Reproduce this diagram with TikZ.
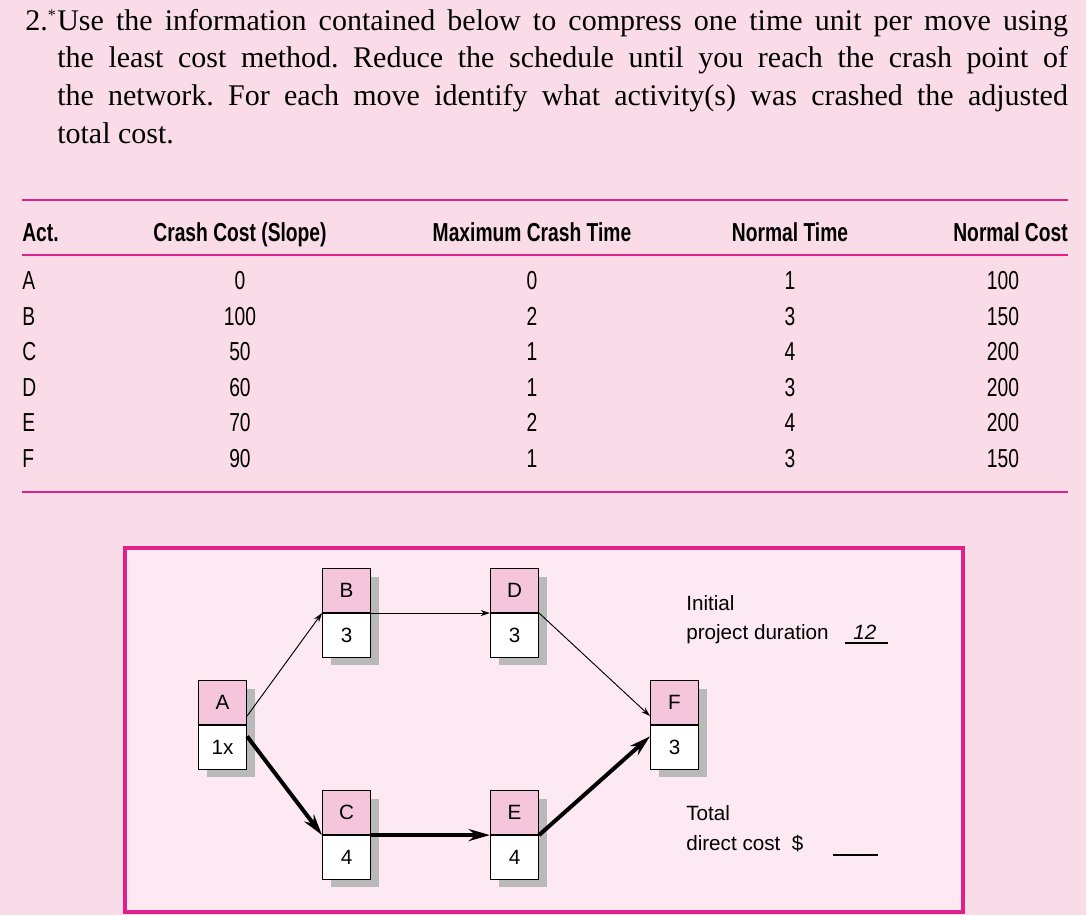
\documentclass[tikz,border=0pt]{standalone}
\usepackage{fontspec}
\setmainfont{Liberation Serif}
\newfontfamily\cond[FakeStretch=0.74]{Liberation Sans}
\newfontfamily\lsans{Liberation Sans}
\usetikzlibrary{arrows.meta,calc}
\definecolor{bgpink}{HTML}{FADCE8}
\definecolor{inpink}{HTML}{FCE9F1}
\definecolor{mag}{HTML}{E0218A}
\definecolor{toppink}{HTML}{F5C6DB}
\tikzset{
 title/.style={anchor=base west,inner sep=0pt,font=\fontsize{22.5}{26}\selectfont},
 th/.style={anchor=base,inner sep=0pt,font=\cond\bfseries\fontsize{19.5}{22}\selectfont},
 td/.style={anchor=base,inner sep=0pt,font=\cond\fontsize{19.5}{22}\selectfont},
 half/.style={draw=black,line width=0.8pt,minimum width=36pt,minimum height=33pt,inner sep=0pt,font=\lsans\fontsize{15.5}{18}\selectfont},
 thin/.style={line width=0.7pt,-{Stealth[length=7pt,width=4.5pt]}},
 thick/.style={line width=3pt,-{Stealth[length=16pt,width=9pt]}},
 side/.style={anchor=base west,inner sep=0pt,font=\lsans\fontsize{15.5}{18}\selectfont},
}
\newcommand{\actbox}[5]{%
 \fill[gray!55] (#2+9,#3+9) rectangle (#2+57,#3+97);
 \node[half,fill=toppink,anchor=north west] (#1t) at (#2,#3) {#4};
 \node[half,fill=white,anchor=north] (#1b) at (#1t.south) {#5};
}
\begin{document}
\frenchspacing
\begin{tikzpicture}[x=0.75pt,y=-0.75pt]
\useasboundingbox (0,0) rectangle (1086,915);
\fill[bgpink] (0,0) rectangle (1086,915);
% title
\node[title] (n2) at (25,30) {2.\raisebox{7pt}{\fontsize{12}{12}\selectfont *}};
\node[title] (l1) at (57,30) {\makebox[758pt][s]{Use the information contained below to compress one time unit per move using}};
\node[title] (l2) at (57,67) {\makebox[758pt][s]{the least cost method. Reduce the schedule until you reach the crash point of}};
\node[title] (l3) at (57,105) {\makebox[758pt][s]{the network. For each move identify what activity(s) was crashed the adjusted}};
\node[title] (l4) at (57,143) {total cost.};
% table
\draw[mag,line width=1.6pt] (22,200) -- (1068,200);
\draw[mag,line width=1.6pt] (22,255) -- (1068,255);
\draw[mag,line width=1.6pt] (22,492) -- (1068,492);
\node[th,anchor=base west] (h1) at (22,241) {Act.};
\node[th] (h2) at (240,241) {Crash Cost (Slope)};
\node[th] (h3) at (532,241) {Maximum Crash Time};
\node[th] (h4) at (790,241) {Normal Time};
\node[th,anchor=base east] (h5) at (1068,241) {Normal Cost};
\foreach \a/\b/\c/\d/\e [count=\i] in {A/0/0/1/100,B/100/2/3/150,C/50/1/4/200,D/60/1/3/200,E/70/2/4/200,F/90/1/3/150}{
 \pgfmathsetmacro{\yy}{254+35.5*\i}
 \node[td,anchor=base west] (r\i a) at (22,\yy) {\a};
 \node[td] (r\i b) at (240,\yy) {\b};
 \node[td] (r\i c) at (532,\yy) {\c};
 \node[td] (r\i d) at (790,\yy) {\d};
 \node[td] (r\i e) at (1003,\yy) {\e};
}
% diagram box
\draw[mag,line width=2.4pt,fill=inpink] (125,548) rectangle (963,912);
\actbox{B}{322}{568}{B}{3}
\actbox{D}{490}{568}{D}{3}
\actbox{A}{198}{680}{A}{1x}
\actbox{F}{650}{680}{F}{3}
\actbox{C}{322}{790}{C}{4}
\actbox{E}{490}{790}{E}{4}
\draw[thin] ($(At.east)!0.6!(At.south east)$) -- (Bb.north west);
\draw[thin] (Bb.north east) -- (Db.north west);
\draw[thin] (Db.north east) -- ($(Ft.west)!0.6!(Ft.south west)$);
\draw[thick] ($(Ab.north east)!0.5!(Ab.east)$) -- (Cb.north west);
\draw[thick] (Cb.north east) -- (Eb.north west);
\draw[thick] (Eb.north east) -- ($(Fb.north west)!0.5!(Fb.west)$);
% side text
\node[side] (ini) at (686,610) {Initial};
\node[side] (pd) at (686,639) {project duration};
\node[side] (twelve) at (853,639) {\itshape 12};
\draw[line width=0.8pt] (845,643) -- (888,643);
\node[side] (tot) at (686,820) {Total};
\node[side] (dc) at (686,850) {direct cost \ \$};
\draw[line width=0.8pt] (833,855) -- (878,855);
\end{tikzpicture}
\end{document}
